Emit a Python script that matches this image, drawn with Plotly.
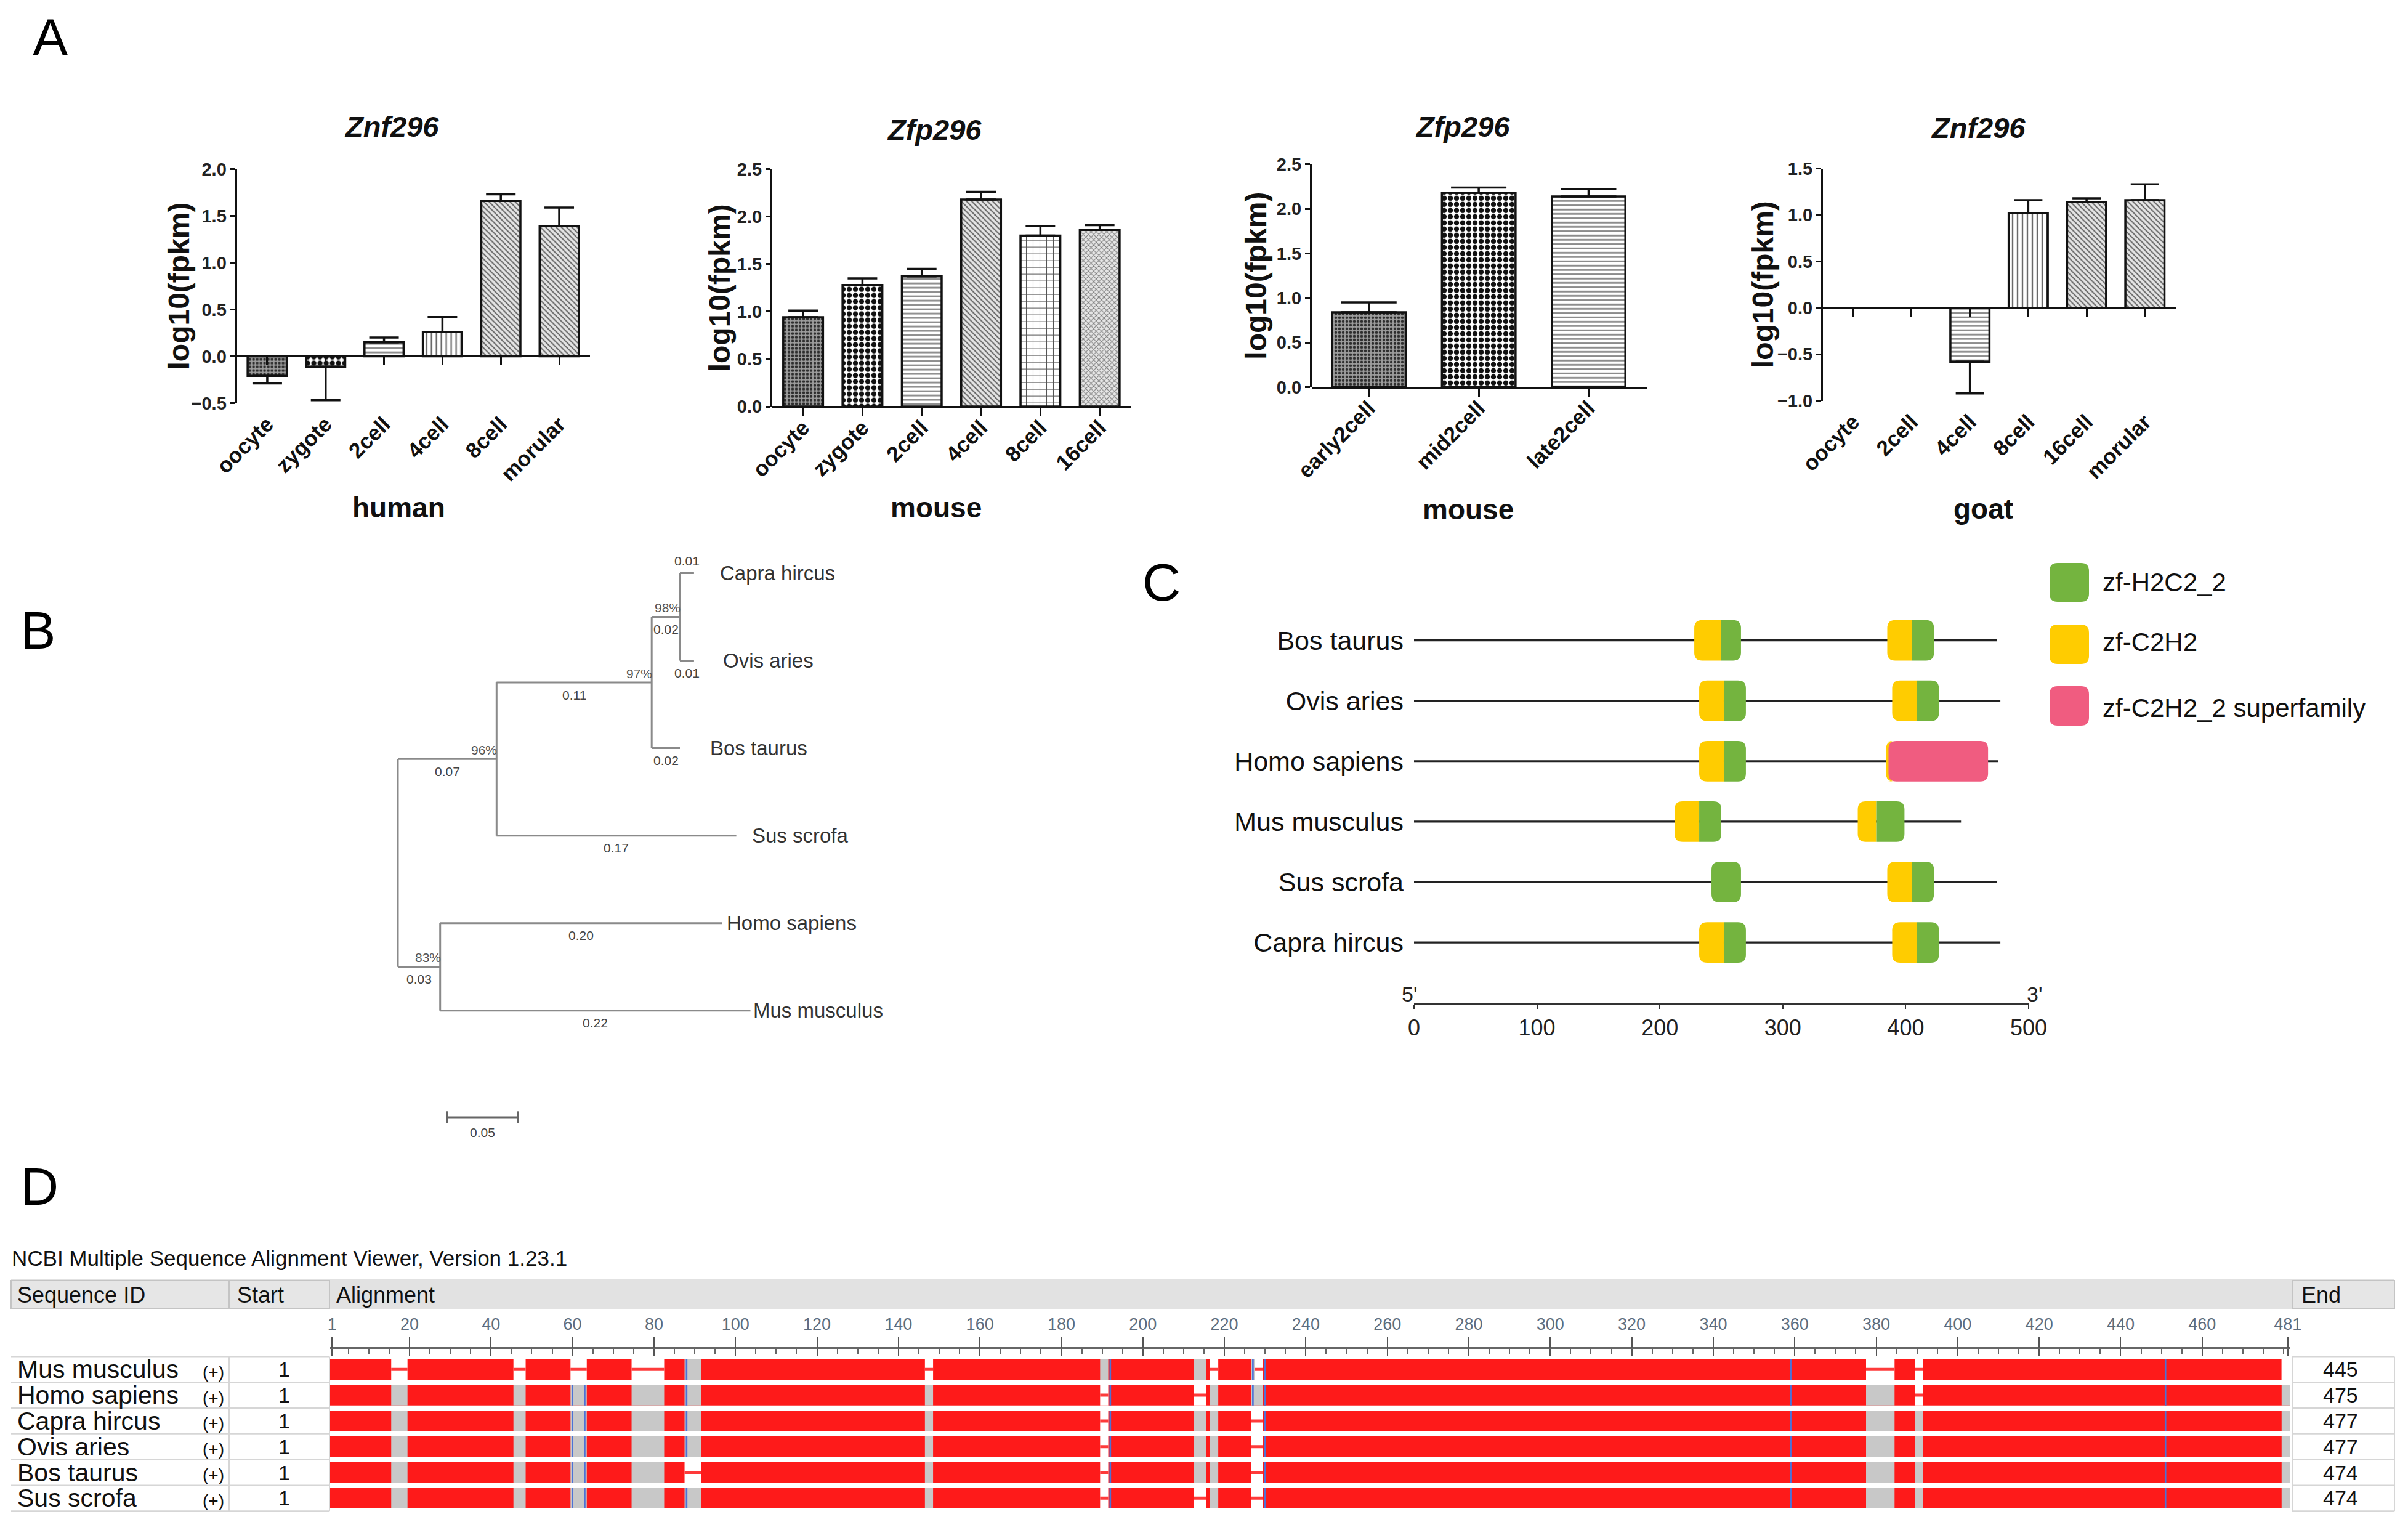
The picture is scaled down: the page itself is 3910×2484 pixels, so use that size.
import plotly.graph_objects as go

W, H = 3910, 2484
OFF = 8  # compensates the page's default body margin so marks land where intended
FONT = "Liberation Sans, Arial, Helvetica, sans-serif"
INK = "#111111"

# ======================= DATA =======================
# ---- Panel A: expression, log10(FPKM) mean and SEM ----
human_stages = ["oocyte", "zygote", "2cell", "4cell", "8cell", "morular"]
human_log10_fpkm = [-0.21, -0.11, 0.15, 0.26, 1.66, 1.39]
human_sem = [0.08, 0.36, 0.05, 0.16, 0.07, 0.20]

mouse_stages = ["oocyte", "zygote", "2cell", "4cell", "8cell", "16cell"]
mouse_log10_fpkm = [0.94, 1.28, 1.37, 2.18, 1.80, 1.86]
mouse_sem = [0.07, 0.07, 0.08, 0.08, 0.10, 0.05]

mouse2_stages = ["early2cell", "mid2cell", "late2cell"]
mouse2_log10_fpkm = [0.84, 2.18, 2.14]
mouse2_sem = [0.11, 0.06, 0.08]

goat_stages = ["oocyte", "2cell", "4cell", "8cell", "16cell", "morular"]
goat_log10_fpkm = [None, None, -0.58, 1.02, 1.14, 1.16]
goat_sem = [None, None, 0.34, 0.14, 0.04, 0.17]

# ---- Panel B: phylogenetic tree ----
tree_taxa = ["Capra hircus", "Ovis aries", "Bos taurus", "Sus scrofa", "Homo sapiens", "Mus musculus"]
branch_child = ["N1", "N2", "N3", "Capra hircus", "Ovis aries", "Bos taurus", "Sus scrofa", "N4", "Homo sapiens", "Mus musculus"]
branch_parent = ["root", "N1", "N2", "N3", "N3", "N2", "N1", "root", "N4", "N4"]
branch_length = [0.07, 0.11, 0.02, 0.01, 0.01, 0.02, 0.17, 0.03, 0.20, 0.22]
bootstrap_node = ["N1", "N2", "N3", "N4"]
bootstrap_pct = [96, 97, 98, 83]
scale_bar_length = 0.05

# ---- Panel C: protein domains ----
domain_species = ["Bos taurus", "Ovis aries", "Homo sapiens", "Mus musculus", "Sus scrofa", "Capra hircus"]
protein_length = [474, 477, 475, 445, 474, 477]
zf_C2H2_domains = [[(228, 250), (385, 405)], [(232, 252), (389, 409)], [(232, 252), (384, 392)],
                   [(212, 232), (361, 376)], [(385, 405)], [(232, 252), (389, 409)]]
zf_H2C2_2_domains = [[(250, 266), (405, 423)], [(252, 270), (409, 427)], [(252, 270)],
                     [(232, 250), (376, 399)], [(242, 266), (405, 423)], [(252, 270), (409, 427)]]
zf_C2H2_2_superfamily = [[], [], [(386, 467)], [], [], []]
domain_axis_ticks = [0, 100, 200, 300, 400, 500]

# ---- Panel D: multiple sequence alignment ----
msa_species = ["Mus musculus", "Homo sapiens", "Capra hircus", "Ovis aries", "Bos taurus", "Sus scrofa"]
msa_start = [1, 1, 1, 1, 1, 1]
msa_end = [445, 475, 477, 477, 474, 474]
msa_columns = 481
msa_ruler_ticks = [1] + list(range(20, 461, 20)) + [481]
msa_gaps = [
    [(16, 19), (46, 48), (60, 63), (75, 82), (147, 148), (217, 218), (228, 229), (378, 384), (390, 391), (480, 481)],
    [(190, 191), (213, 215), (390, 391)],
    [(190, 191), (227, 229)],
    [(190, 191), (227, 229)],
    [(88, 91), (190, 191), (227, 229)],
    [(190, 191), (213, 215), (227, 229)],
]
msa_blue_marks = [60, 63, 88, 192, 227, 230, 359, 451]

# ======================= HELPERS =======================
fig = go.Figure()
axes = {}
annotations = []
shapes = []
_xc = [0]
_yc = [0]


def new_x():
    _xc[0] += 1
    n = _xc[0]
    return ("x" if n == 1 else f"x{n}"), ("xaxis" if n == 1 else f"xaxis{n}")


def new_y():
    _yc[0] += 1
    n = _yc[0]
    return ("y" if n == 1 else f"y{n}"), ("yaxis" if n == 1 else f"yaxis{n}")


def X(p):
    return (p - OFF) / W


def Y(p):
    return 1 - (p - OFF) / H


def text(x, y, s, size, color=INK, xanchor="center", yanchor="middle", angle=0,
         xref="paper", yref="paper", xshift=0, yshift=0):
    if xref == "paper":
        x = X(x)
    if yref == "paper":
        y = Y(y)
    annotations.append(dict(x=x, y=y, xref=xref, yref=yref, text=s, showarrow=False,
                            xanchor=xanchor, yanchor=yanchor, textangle=angle,
                            xshift=xshift, yshift=yshift, borderpad=0,
                            font=dict(family=FONT, size=size, color=color)))


def hbar(xr, yr, ys, bases, lengths, color, width):
    if not ys:
        return
    fig.add_trace(go.Bar(orientation="h", y=ys, x=lengths, base=bases, width=width,
                         marker=dict(color=color, line=dict(width=0)),
                         xaxis=xr, yaxis=yr, hoverinfo="skip", showlegend=False))


def rect(x0, y0, x1, y1, fill="rgba(0,0,0,0)", line="rgba(0,0,0,0)", lw=0, layer="below"):
    shapes.append(dict(type="rect", xref="paper", yref="paper", x0=X(x0), x1=X(x1), y0=Y(y1), y1=Y(y0),
                       fillcolor=fill, line=dict(color=line, width=lw), layer=layer))


def seg(x0, y0, x1, y1, color, w):
    shapes.append(dict(type="line", xref="paper", yref="paper", x0=X(x0), x1=X(x1), y0=Y(y0), y1=Y(y1),
                       line=dict(color=color, width=w)))


def rpath(x0, x1, y0, y1, rx, ry, rl=True, rr=True):
    """Rounded rectangle path (generic coordinates)."""
    lx = rx if rl else 0
    rxx = rx if rr else 0
    p = f"M {x0 + lx},{y0} L {x1 - rxx},{y0} "
    if rr:
        p += f"Q {x1},{y0} {x1},{y0 + ry} L {x1},{y1 - ry} Q {x1},{y1} {x1 - rx},{y1} "
    else:
        p += f"L {x1},{y0} L {x1},{y1} "
    p += f"L {x0 + lx},{y1} "
    if rl:
        p += f"Q {x0},{y1} {x0},{y1 - ry} L {x0},{y0 + ry} Q {x0},{y0} {x0 + rx},{y0} "
    else:
        p += f"L {x0},{y1} L {x0},{y0} "
    return p + "Z"


# ======================= PANEL LABELS =======================
for lab, (lx, ly) in zip("ABCD", [(82, 60), (61, 1023), (1886, 945), (64, 1926)]):
    text(lx, ly, lab, 86, color="#000")

# ======================= PANEL A =======================
PATTERNS = {
    "dots": dict(shape=".", fg="#2e2e2e", bg="#9c9c9c", size=6, sol=0.45),
    "checker": dict(shape=".", fg="#111111", bg="#ffffff", size=10, sol=0.55),
    "hlines": dict(shape="-", fg="#8a8a8a", bg="#ffffff", size=7, sol=0.4),
    "vlines": dict(shape="|", fg="#6a6a6a", bg="#ffffff", size=8, sol=0.3),
    "diag": dict(shape="\\", fg="#666666", bg="#e4e4e4", size=6, sol=0.35),
    "grid": dict(shape="+", fg="#555555", bg="#ffffff", size=11, sol=0.18),
    "xdots": dict(shape="x", fg="#777777", bg="#e6e6e6", size=6, sol=0.3),
    "none": dict(shape="", fg="#ffffff", bg="#ffffff", size=8, sol=0.3),
}

A_panels = [
    dict(gene="Znf296", species="human", cats=human_stages, vals=human_log10_fpkm, sem=human_sem,
         yrange=(-0.5, 2.0), xpx=(384.6, 958.3), ypx=(274.6, 654.4), title_xy=(636, 205),
         xtitle_xy=(647, 824), ylab_x=290, cap=24,
         pat=["dots", "checker", "hlines", "vlines", "diag", "diag"]),
    dict(gene="Zfp296", species="mouse", cats=mouse_stages, vals=mouse_log10_fpkm, sem=mouse_sem,
         yrange=(0, 2.5), xpx=(1254, 1836.7), ypx=(274.6, 660), title_xy=(1517, 210),
         xtitle_xy=(1520, 824), ylab_x=1168, cap=24,
         pat=["dots", "checker", "hlines", "diag", "grid", "xdots"]),
    dict(gene="Zfp296", species="mouse", cats=mouse2_stages, vals=mouse2_log10_fpkm, sem=mouse2_sem,
         yrange=(0, 2.5), xpx=(2130, 2674), ypx=(266.8, 628.5), title_xy=(2375, 205),
         xtitle_xy=(2384, 827), ylab_x=2040, cap=45,
         pat=["dots", "checker", "hlines"]),
    dict(gene="Znf296", species="goat", cats=goat_stages, vals=goat_log10_fpkm, sem=goat_sem,
         yrange=(-1.0, 1.5), xpx=(2960, 3533), ypx=(273.7, 650.7), title_xy=(3212, 207),
         xtitle_xy=(3220, 826), ylab_x=2862, cap=23,
         pat=["none", "none", "hlines", "vlines", "diag", "diag"]),
]

for p in A_panels:
    xr, xk = new_x()
    yr, yk = new_y()
    n = len(p["cats"])
    xrange = [-0.52, n - 0.47]
    x0, x1 = p["xpx"]
    ytop, ybot = p["ypx"]
    ymin, ymax = p["yrange"]
    axes[xk] = dict(domain=[X(x0), X(x1)], range=xrange, anchor=yr, tickmode="array",
                    tickvals=list(range(n)), ticktext=p["cats"], tickangle=-45, ticks="",
                    showline=False, showgrid=False, zeroline=False, ticklabelstandoff=6,
                    automargin=False,
                    tickfont=dict(family=FONT, size=35, color=INK, weight="bold"))
    axes[yk] = dict(domain=[Y(ybot), Y(ytop)], range=[ymin, ymax], anchor=xr, tick0=0, dtick=0.5,
                    tickformat=".1f", ticks="outside", ticklen=8, tickwidth=3, tickcolor=INK,
                    showline=True, linewidth=3, linecolor=INK, showgrid=False, zeroline=False,
                    automargin=False,
                    tickfont=dict(family=FONT, size=29, color="#222", weight="bold"))
    # baseline (y = 0) axis with downward tick marks
    zr, zk = new_x()
    zero_pos = Y(ybot) + (0 - ymin) / (ymax - ymin) * (Y(ytop) - Y(ybot))
    axes[zk] = dict(overlaying=xr, anchor="free", position=zero_pos, range=xrange, tickmode="array",
                    tickvals=list(range(n)), ticks="outside", ticklen=13, tickwidth=3, tickcolor=INK,
                    showticklabels=False, showline=True, linewidth=3, linecolor=INK,
                    showgrid=False, zeroline=False, automargin=False)
    fig.add_trace(go.Scatter(x=list(range(n)), y=[0] * n, mode="markers", marker=dict(opacity=0),
                             xaxis=zr, yaxis=yr, hoverinfo="skip", showlegend=False))

    up = [s if (v is not None and v >= 0) else 0 for v, s in zip(p["vals"], p["sem"])]
    dn = [s if (v is not None and v < 0) else 0 for v, s in zip(p["vals"], p["sem"])]
    pats = [PATTERNS[k] for k in p["pat"]]
    fig.add_trace(go.Bar(
        x=list(range(n)), y=p["vals"], width=0.67, xaxis=xr, yaxis=yr, hoverinfo="skip", showlegend=False,
        marker=dict(color="white", line=dict(color=INK, width=3.5),
                    pattern=dict(shape=[q["shape"] for q in pats], fgcolor=[q["fg"] for q in pats],
                                 bgcolor=[q["bg"] for q in pats], size=[q["size"] for q in pats],
                                 solidity=[q["sol"] for q in pats], fillmode="replace")),
        error_y=dict(type="data", symmetric=False, array=up, arrayminus=dn, color=INK,
                     thickness=3.5, width=p["cap"])))

    text(p["title_xy"][0], p["title_xy"][1], f"<b><i>{p['gene']}</i></b>", 47)
    text(p["xtitle_xy"][0], p["xtitle_xy"][1], f"<b>{p['species']}</b>", 46)
    text(p["ylab_x"], (ytop + ybot) / 2, "<b>log10(fpkm)</b>", 48, angle=-90)

# ======================= PANEL B (tree) =======================
children = {}
for c, par, L in zip(branch_child, branch_parent, branch_length):
    children.setdefault(par, []).append((c, L))
xpos = {"root": 0.0}


def set_x(node):
    for c, L in children.get(node, []):
        xpos[c] = xpos[node] + L
        set_x(c)


set_x("root")
ypos = {t: i for i, t in enumerate(tree_taxa)}


def set_y(node):
    if node in ypos:
        return ypos[node]
    ys = [set_y(c) for c, _ in children[node]]
    ypos[node] = (min(ys) + max(ys)) / 2
    return ypos[node]


set_y("root")

bxr, bxk = new_x()
byr, byk = new_y()
B_scale, B_root_px = 2290.0, 646.0
B_xrange = [-0.01, 0.33]
B_leaf0, B_pitch = 930.5, 142.06
B_yrange = [6.6, -0.6]
axes[bxk] = dict(domain=[X(B_root_px + B_xrange[0] * B_scale), X(B_root_px + B_xrange[1] * B_scale)],
                 range=B_xrange, anchor=byr, visible=False, automargin=False)
axes[byk] = dict(domain=[Y(B_leaf0 + B_yrange[0] * B_pitch), Y(B_leaf0 + B_yrange[1] * B_pitch)],
                 range=B_yrange, anchor=bxr, visible=False, automargin=False)

lx, ly = [], []
for par, kids in children.items():
    ys = [ypos[c] for c, _ in kids]
    lx += [xpos[par], xpos[par], None]
    ly += [min(ys), max(ys), None]
    for c, _ in kids:
        lx += [xpos[par], xpos[c], None]
        ly += [ypos[c], ypos[c], None]
fig.add_trace(go.Scatter(x=lx, y=ly, mode="lines", line=dict(color="#8a8a8a", width=3),
                         xaxis=bxr, yaxis=byr, hoverinfo="skip", showlegend=False))

for c, par, L in zip(branch_child, branch_parent, branch_length):
    above = (c == tree_taxa[0])
    text((xpos[par] + xpos[c]) / 2, ypos[c], f"{L:.2f}", 21, color="#444",
         xref=bxr, yref=byr, yshift=20 if above else -20)
for node, pct in zip(bootstrap_node, bootstrap_pct):
    text(xpos[node], ypos[node], f"{pct}%", 21, color="#555", xanchor="right",
         xref=bxr, yref=byr, yshift=15, xshift=2)
leaf_label_gap = [41, 46, 48, 24, 6, 3]
for t, g in zip(tree_taxa, leaf_label_gap):
    text(xpos[t], ypos[t], t, 33, color="#333", xanchor="left", xref=bxr, yref=byr, xshift=g)

sb_x0, sb_y = 0.035, 6.22
fig.add_trace(go.Scatter(x=[sb_x0, sb_x0 + scale_bar_length], y=[sb_y, sb_y], mode="lines+markers",
                         line=dict(color="#666", width=3),
                         marker=dict(symbol="line-ns", size=14, line=dict(color="#666", width=3)),
                         xaxis=bxr, yaxis=byr, hoverinfo="skip", showlegend=False))
text(sb_x0 + scale_bar_length / 2, sb_y, f"{scale_bar_length:.2f}", 21, color="#444",
     xref=bxr, yref=byr, yshift=-24)

# ======================= PANEL C (domains) =======================
cxr, cxk = new_x()
cyr, cyk = new_y()
C_row0, C_pitch = 1039.6, 98.1
C_yrange = [6.0, -0.5]
C_x0px, C_x1px = 2296, 3294
axes[cxk] = dict(domain=[X(C_x0px), X(C_x1px)], range=[0, 500], anchor=cyr, tickmode="array",
                 tickvals=domain_axis_ticks, ticks="outside", ticklen=7, tickwidth=2, tickcolor="#333",
                 showline=True, linewidth=3, linecolor="#333", showgrid=False, zeroline=False,
                 automargin=False, tickfont=dict(family=FONT, size=36, color="#222"))
axes[cyk] = dict(domain=[Y(C_row0 + C_yrange[0] * C_pitch), Y(C_row0 + C_yrange[1] * C_pitch)],
                 range=C_yrange, anchor=cxr, tickmode="array", tickvals=list(range(len(domain_species))),
                 ticktext=domain_species, ticks="", showline=False, showgrid=False, zeroline=False,
                 automargin=False, ticklabelstandoff=16, tickfont=dict(family=FONT, size=43, color=INK))

# backbone lines (protein length)
hbar(cxr, cyr, list(range(len(domain_species))), [0] * len(domain_species), protein_length, "#222222", 0.032)

# domains as rounded boxes in data coordinates
C_box_h = 0.67
C_rx = 13 / ((C_x1px - C_x0px) / 500.0)
C_ry = 13 / C_pitch
C_types = [("zf-C2H2", zf_C2H2_domains, "#ffcc00"),
           ("zf-H2C2_2", zf_H2C2_2_domains, "#74b43f"),
           ("zf-C2H2_2 superfamily", zf_C2H2_2_superfamily, "#f05c80")]
for name, doms, color in C_types:
    for i, row in enumerate(doms):
        others = [d for _, dd, _ in C_types for d in dd[i]]
        for (s, e) in row:
            left_adj = any(abs(o[1] - s) < 1 for o in others if o != (s, e))
            right_adj = any(abs(o[0] - e) < 1 for o in others if o != (s, e))
            shapes.append(dict(type="path", xref=cxr, yref=cyr,
                               path=rpath(s, e, i - C_box_h / 2, i + C_box_h / 2, C_rx, C_ry,
                                          rl=not left_adj, rr=not right_adj),
                               fillcolor=color, line=dict(width=0), layer="above"))

text(2288, 1614, "5'", 34, color="#222")
text(3303, 1614, "3'", 34, color="#222")

legend_items = [("zf-H2C2_2", "#74b43f", 914, 977, 945),
                ("zf-C2H2", "#ffcc00", 1014, 1078, 1042),
                ("zf-C2H2_2 superfamily", "#f05c80", 1114, 1178, 1149)]
for lab, col, y0, y1, yt in legend_items:
    pth = rpath(X(3328), X(3392), Y(y1), Y(y0), 13 / W, 13 / H)
    shapes.append(dict(type="path", path=pth, xref="paper", yref="paper", fillcolor=col, line=dict(width=0)))
    text(3413, yt, lab, 42, color=INK, xanchor="left")

# ======================= PANEL D (alignment) =======================
dxr, dxk = new_x()
d2r, d2k = new_x()
dyr, dyk = new_y()
D_row0, D_pitch = 2223.3, 41.8
D_ruler_y = 2188
D_yrange = [5.5, -0.5]
axes[dxk] = dict(domain=[X(536), X(3718)], range=[0.5, msa_columns + 0.5], anchor="free",
                 position=Y(D_ruler_y), side="top", tickmode="array", tickvals=msa_ruler_ticks,
                 ticks="inside", ticklen=12, tickwidth=2, tickcolor="#555", showticklabels=False,
                 showline=True, linewidth=3, linecolor="#666", showgrid=False, zeroline=False,
                 automargin=False,
                 minor=dict(ticks="inside", ticklen=9, tickwidth=2, tickcolor="#666",
                            tickmode="linear", tick0=0, dtick=5, showgrid=False))
axes[d2k] = dict(overlaying=dxr, anchor="free", position=Y(D_ruler_y), side="top",
                 range=[0.5, msa_columns + 0.5], tickmode="array", tickvals=msa_ruler_ticks,
                 ticktext=[str(t) for t in msa_ruler_ticks], ticks="outside", ticklen=18, tickwidth=2,
                 tickcolor="#555", showline=False, showgrid=False, zeroline=False, automargin=False,
                 tickfont=dict(family=FONT, size=27, color="#5d6d7e"))
axes[dyk] = dict(domain=[Y(D_row0 + D_yrange[0] * D_pitch), Y(D_row0 + D_yrange[1] * D_pitch)],
                 range=D_yrange, anchor=dxr, visible=False, automargin=False)
fig.add_trace(go.Scatter(x=msa_ruler_ticks, y=[0] * len(msa_ruler_ticks), mode="markers",
                         marker=dict(opacity=0), xaxis=d2r, yaxis=dyr, hoverinfo="skip", showlegend=False))

n_rows = len(msa_species)
gapcols = [set(c for a, b in gaps for c in range(a, b + 1)) for gaps in msa_gaps]
all_gap = set().union(*gapcols)

# red aligned blocks
red_y, red_b, red_l = [], [], []
for i, gaps in enumerate(msa_gaps):
    last = msa_columns
    while last in gapcols[i]:
        last -= 1
    red_y.append(i); red_b.append(0.5); red_l.append(last)
hbar(dxr, dyr, red_y, red_b, red_l, "#fe1a1a", 0.8)

# gray (columns that are gapped in some other sequence)
gy, gb, gl = [], [], []
for i in range(n_rows):
    cols = sorted(all_gap - gapcols[i])
    runs = []
    for c in cols:
        if runs and c == runs[-1][1] + 1:
            runs[-1][1] = c
        else:
            runs.append([c, c])
    for a, b in runs:
        gy.append(i); gb.append(a - 0.5); gl.append(b - a + 1)
hbar(dxr, dyr, gy, gb, gl, "#c8c8c8", 0.8)

# gaps: white with a thin connector line (no connector for trailing gaps)
wy, wb, wl, cy, cb, cl = [], [], [], [], [], []
for i, gaps in enumerate(msa_gaps):
    for a, b in gaps:
        wy.append(i); wb.append(a - 0.5); wl.append(b - a + 1)
        if b < msa_columns:
            cy.append(i); cb.append(a - 0.5); cl.append(b - a + 1)
hbar(dxr, dyr, wy, wb, wl, "#ffffff", 0.8)
hbar(dxr, dyr, cy, cb, cl, "#fe3a3a", 0.12)

# blue marks
by_, bb, bl = [], [], []
for i in range(n_rows):
    for c in msa_blue_marks:
        if c not in gapcols[i]:
            by_.append(i); bb.append(c - 0.2); bl.append(0.4)
hbar(dxr, dyr, by_, bb, bl, "#4d72d6", 0.8)

# table chrome
text(18, 2042, "NCBI Multiple Sequence Alignment Viewer, Version 1.23.1", 35, color="#111", xanchor="left")
rect(18, 2077, 3888, 2125, fill="#e2e2e2")
for x0, x1 in [(18, 371), (373, 535), (3722, 3888)]:
    rect(x0, 2079, x1, 2125, fill="#e6e6e6", line="#c4c4c4", lw=2)
text(27, 2102, "Sequence ID", 36, xanchor="left")
text(384, 2102, "Start", 36, xanchor="left")
text(545, 2102, "Alignment", 36, xanchor="left")
text(3736, 2102, "End", 36, xanchor="left")
row_top = D_row0 - 0.5 * D_pitch
row_bot = D_row0 + (n_rows - 0.5) * D_pitch
for k in range(n_rows + 1):
    yk_ = row_top + k * D_pitch
    seg(18, yk_, 535, yk_, "#d6d6d6", 2)
    seg(3722, yk_, 3888, yk_, "#d6d6d6", 2)
for xv in [372, 535, 3722, 3888]:
    seg(xv, row_top, xv, row_bot, "#d6d6d6", 2)
for i, (sp, st, en) in enumerate(zip(msa_species, msa_start, msa_end)):
    text(27, i, sp, 41, xanchor="left", yref=dyr)
    text(346, i, "(+)", 28, yref=dyr, yshift=-4)
    text(461, i, str(st), 34, yref=dyr)
    text(3800, i, str(en), 34, yref=dyr)

fig.update_layout(
    template="none",
    width=W, height=H, autosize=False, margin=dict(l=0, r=0, t=0, b=0, pad=0),
    paper_bgcolor="white", plot_bgcolor="rgba(0,0,0,0)", showlegend=False, barmode="overlay",
    font=dict(family=FONT, color=INK), annotations=annotations, shapes=shapes, **axes)

fig.write_html("out.html")
